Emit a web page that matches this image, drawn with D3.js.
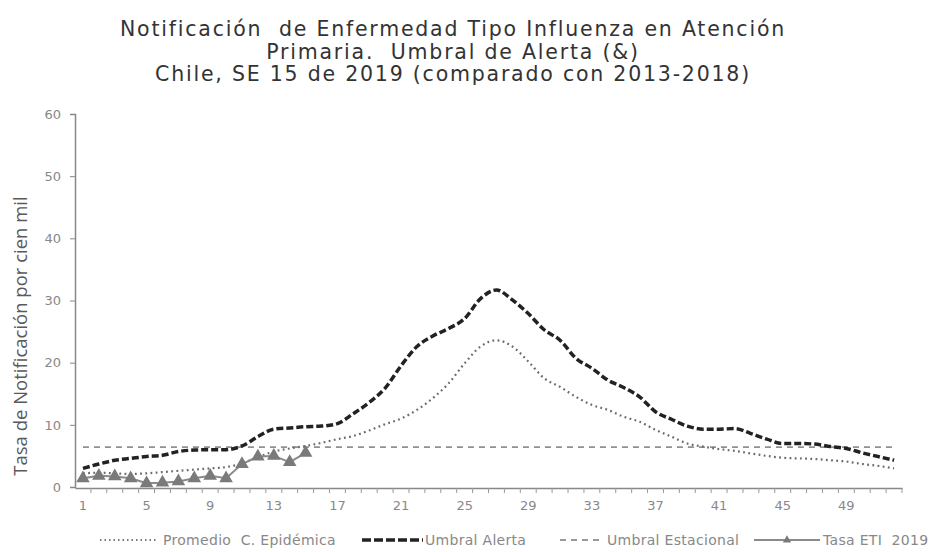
<!DOCTYPE html>
<html><head><meta charset="utf-8">
<script src="https://cdn.jsdelivr.net/npm/d3@7"></script>
<style>body{margin:0;background:#fff}svg{display:block}</style>
</head><body>
<svg id="c" width="947" height="552"></svg>
<script>
const weeks = ["1","2","3","4","5","6","7","8","9","10","11","12","13","14","15","16","17","18","19","20","21","22","23","24","25","26","27","28","29","30","31","32","33","34","35","36","37","38","39","40","41","42","43","44","45","46","47","48","49","50","51","52"];
const tickLabels = ["1","5","9","13","17","21","25","29","33","37","41","45","49"];
const yTicks = [0,10,20,30,40,50,60];
const promedio = [2.2,2.3,2.2,2.1,2.2,2.4,2.6,2.8,3.0,3.2,3.8,4.8,5.7,6.2,6.6,7.1,7.7,8.2,9.1,10.1,11.0,12.4,14.3,16.7,19.9,22.6,23.6,22.6,20.2,17.5,16.1,14.5,13.2,12.4,11.3,10.5,9.2,8.1,7.0,6.5,6.1,5.8,5.4,5.0,4.7,4.6,4.5,4.3,4.1,3.7,3.4,3.0];
const alerta = [3.0,3.7,4.3,4.6,4.9,5.1,5.7,5.95,6.0,6.0,6.6,8.1,9.3,9.5,9.7,9.8,10.2,11.8,13.6,15.9,19.5,22.6,24.3,25.5,27.1,30.3,31.7,30.1,27.9,25.3,23.6,20.7,19.1,17.2,16.0,14.5,12.1,10.9,9.8,9.3,9.3,9.4,8.6,7.7,7.0,7.0,6.9,6.5,6.2,5.5,4.9,4.3];
const estacional = [6.4,6.4,6.4,6.4,6.4,6.4,6.4,6.4,6.4,6.4,6.4,6.4,6.4,6.4,6.4,6.4,6.4,6.4,6.4,6.4,6.4,6.4,6.4,6.4,6.4,6.4,6.4,6.4,6.4,6.4,6.4,6.4,6.4,6.4,6.4,6.4,6.4,6.4,6.4,6.4,6.4,6.4,6.4,6.4,6.4,6.4,6.4,6.4,6.4,6.4,6.4,6.4];
const tasa2019 = [1.4,1.8,1.7,1.4,0.6,0.7,0.9,1.4,1.8,1.4,3.7,4.9,5.0,4.0,5.5];
const titleLines = ["Notificación  de Enfermedad Tipo Influenza en Atención","Primaria.  Umbral de Alerta (&)","Chile, SE 15 de 2019 (comparado con 2013-2018)"];
const yTitle = "Tasa de Notificación por cien mil";
const legendNames = ["Promedio  C. Epidémica","Umbral Alerta","Umbral Estacional","Tasa ETI  2019"];

const svg = d3.select("#c");
const x = d3.scaleBand().domain(weeks).range([75, 902]);
const y = d3.scaleLinear().domain([0, 60]).range([487, 114]);
const cx = w => x(w) + x.bandwidth() / 2;

// title
const tg = svg.append("g").attr("font-family", "DejaVu Sans").attr("fill", "#333").attr("font-size", 20.5);
const tt = tg.selectAll("text").data(titleLines).join("text")
  .attr("x", 453).attr("y", (d, i) => 36 + i * 22.5)
  .attr("text-anchor", "middle")
  .style("white-space", "pre").text(d => d);
const l1 = tt.node().getComputedTextLength();
const n1 = titleLines[0].length;
tt.attr("letter-spacing", Math.max(0, (666 - l1) / n1));

// y axis
const yAxis = svg.append("g").attr("transform", "translate(75,0)")
  .call(d3.axisLeft(y).tickValues(yTicks).tickSize(5).tickPadding(9));
yAxis.select(".domain").attr("stroke", "#888").attr("stroke-width", 1.5);
yAxis.selectAll(".tick line").attr("stroke", "#888");
yAxis.selectAll(".tick text").attr("font-family", "DejaVu Sans").attr("font-size", 13).attr("fill", "#888");

// x axis
const xAxis = svg.append("g").attr("transform", "translate(0,488)")
  .call(d3.axisBottom(x).tickValues(tickLabels).tickSize(0).tickPadding(13));
xAxis.select(".domain").attr("stroke", "#888").attr("stroke-width", 1.5);
xAxis.selectAll(".tick text").attr("font-family", "DejaVu Sans").attr("font-size", 13).attr("fill", "#888");
// minor ticks at category boundaries
svg.append("g").selectAll("line").data(weeks).join("line")
  .attr("x1", d => x(d) + x.bandwidth()).attr("x2", d => x(d) + x.bandwidth())
  .attr("y1", 488).attr("y2", 493).attr("stroke", "#999");

// y title
svg.append("text").attr("transform", "translate(27,336) rotate(-90)")
  .attr("text-anchor", "middle").attr("font-family", "Open Sans").attr("font-size", 18.5)
  .attr("fill", "#5a5a5a").text(yTitle);

const lineGen = arr => d3.line().x((d, i) => cx(weeks[i])).y(d => y(d)).curve(d3.curveMonotoneX)(arr);

// estacional
svg.append("path").attr("d", d3.line().x((d, i) => cx(weeks[i])).y(d => y(d))(estacional))
  .attr("fill", "none").attr("stroke", "#909090").attr("stroke-width", 1.8).attr("stroke-dasharray", "6,5");
// promedio
svg.append("path").attr("d", lineGen(promedio))
  .attr("fill", "none").attr("stroke", "#6a6a6a").attr("stroke-width", 2.2).attr("stroke-dasharray", "1.8,3.4");
// alerta
svg.append("path").attr("d", lineGen(alerta))
  .attr("fill", "none").attr("stroke", "#222").attr("stroke-width", 3.5).attr("stroke-dasharray", "7,3");
// tasa
svg.append("path").attr("d", d3.line().x((d, i) => cx(weeks[i])).y(d => y(d))(tasa2019))
  .attr("fill", "none").attr("stroke", "#8a8a8a").attr("stroke-width", 2);
const tri = d3.symbol().type(d3.symbolTriangle).size(80);
svg.append("g").selectAll("path").data(tasa2019).join("path")
  .attr("transform", (d, i) => `translate(${cx(weeks[i])},${y(d)})`)
  .attr("d", tri).attr("fill", "#7a7a7a");

// legend
const lg = svg.append("g").attr("font-family", "DejaVu Sans").attr("font-size", 14).attr("fill", "#888").attr("letter-spacing", 0.3);
const ly = 545;
const legendPos = [{x0:100,x1:158,t:163},{x0:362,x1:423,t:425},{x0:560,x1:600,t:607},{x0:754,x1:820,t:823}];
const styles = [
  {stroke:"#777", w:2, dash:"1.5,3"},
  {stroke:"#222", w:3.5, dash:"9,3"},
  {stroke:"#999", w:1.8, dash:"6,5"},
  {stroke:"#8a8a8a", w:2, dash:null}
];
legendNames.forEach((name, i) => {
  const p = legendPos[i], s = styles[i];
  lg.append("line").attr("x1", p.x0).attr("x2", p.x1).attr("y1", ly - 5).attr("y2", ly - 5)
    .attr("stroke", s.stroke).attr("stroke-width", s.w).attr("stroke-dasharray", s.dash);
  if (i === 3) lg.append("path").attr("transform", `translate(${(p.x0 + p.x1) / 2},${ly - 5})`)
    .attr("d", d3.symbol().type(d3.symbolTriangle).size(30)).attr("fill", "#7a7a7a");
  lg.append("text").attr("x", p.t).attr("y", ly).style("white-space", "pre").text(name);
});
</script>
</body></html>
